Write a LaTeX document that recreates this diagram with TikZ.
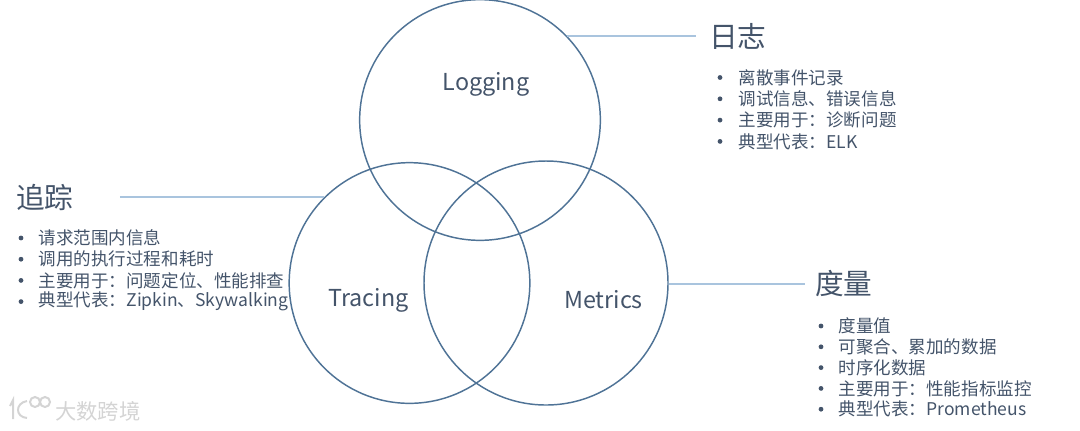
\documentclass[tikz,border=0pt]{standalone}
\usepackage{fontspec}
\setmainfont{Noto Sans CJK SC}
\definecolor{inkblue}{HTML}{44546A}
\definecolor{ringblue}{HTML}{4F7396}
\definecolor{leadblue}{HTML}{A9C4DE}
\definecolor{markgray}{HTML}{D4D4D4}
\tikzset{
    ring/.style={circle,draw=ringblue,line width=1.1pt,minimum size=180.5pt,inner sep=0pt},
    ringname/.style={text=inkblue,font=\fontsize{17.5pt}{20pt}\selectfont},
    heading/.style={text=inkblue,anchor=west,inner sep=0pt,font=\fontsize{21.5pt}{25pt}\selectfont},
    itemtext/.style={text=inkblue,anchor=west,inner sep=0pt,font=\fontsize{13.15pt}{15pt}\selectfont},
    leader/.style={draw=leadblue,line width=0.8pt},
    markline/.style={draw=markgray,line width=1.5pt}
}
\begin{document}
\begin{tikzpicture}[x=0.75pt,y=-0.75pt]
    \useasboundingbox (0,0) rectangle (1080,430);
    % the three rings
    \node[ring] (logging) at (480,120) {};
    \node[ring] (tracing) at (409.5,283) {};
    \node[ring,minimum size=183pt] (metrics) at (546,283) {};
    \node[ringname] (loggingname) at (486,84) {Logging};
    \node[ringname] (tracingname) at (368.5,300) {Tracing};
    \node[ringname] (metricsname) at (603.5,300) {Metrics};
    % headings and their leaders
    \node[heading] (logtitle) at (709,36) {日志};
    \node[heading] (tracetitle) at (16,197) {追踪};
    \node[heading] (metrictitle) at (815,284) {度量};
    \draw[leader,shorten >=13*0.75pt] (logging.44.4 |- logtitle.west) -- (logtitle.west);
    \draw[leader,shorten <=46*0.75pt] (tracetitle.east) -- (tracing.135 |- tracetitle.east);
    \draw[leader,shorten >=10*0.75pt] (metrics.0 |- metrictitle.west) -- (metrictitle.west);
    % bullet lists
    \foreach \i/\t in {0/离散事件记录,1/调试信息、错误信息,2/主要用于：诊断问题,3/典型代表：ELK} {
        \fill[inkblue] (720,{77.5+21.3*\i}) circle (2.4);
        \node[itemtext] (logitem\i) at (738.5,{77.5+21.3*\i}) {\t};
    }
    \foreach \i/\t in {0/请求范围内信息,1/调用的执行过程和耗时,2/主要用于：问题定位、性能排查,3/典型代表：Zipkin、Skywalking} {
        \fill[inkblue] (21,{238+21.2*\i}) circle (2.4);
        \node[itemtext] (traceitem\i) at (38.5,{238+21.2*\i}) {\t};
    }
    \foreach \i/\t in {0/度量值,1/可聚合、累加的数据,2/时序化数据,3/主要用于：性能指标监控,4/典型代表：Prometheus} {
        \fill[inkblue] (821,{326+20.8*\i}) circle (2.4);
        \node[itemtext] (metricitem\i) at (838.5,{326+20.8*\i}) {\t};
    }
    % watermark
    \node[anchor=west,inner sep=0pt,text=markgray,font=\fontsize{16pt}{18pt}\selectfont] (markname) at (55,411) {大数跨境};
    \draw[markline] (10,406) -- (13,400) -- (13,419);
    \draw[markline] (27,401) .. controls (15,403) and (15,417) .. (27,418);
    \draw[markline] (35,402) circle (5);
    \draw[markline] (45,402) circle (5);
\end{tikzpicture}
\end{document}
